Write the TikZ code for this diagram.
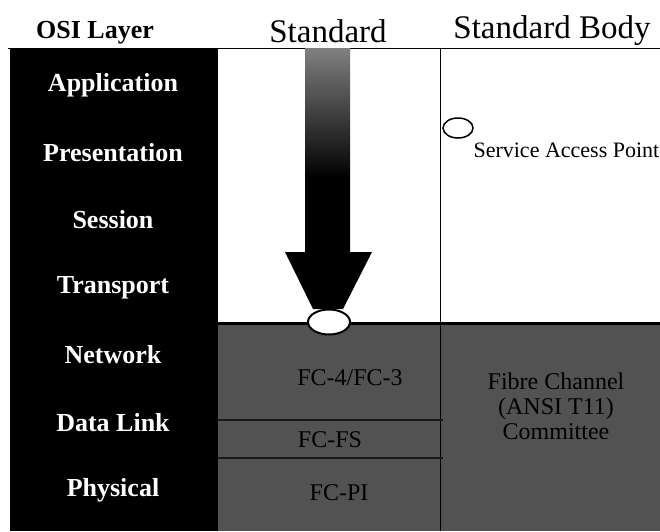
\documentclass[tikz,border=0pt]{standalone}
\usepackage{fontspec}
\setmainfont{Liberation Serif}
\usetikzlibrary{positioning,shapes.geometric}

\begin{document}
\begin{tikzpicture}[x=1pt,y=-1pt,node distance=67.5pt,
  layer/.style={text=white,font=\fontsize{26}{30}\selectfont\bfseries},
  head/.style={font=\fontsize{33}{38}\selectfont},
  fc/.style={text=black,font=\fontsize{24}{28}\selectfont},
  sap/.style={ellipse,draw=black,line width=2pt,fill=white,inner sep=0pt}]
  \useasboundingbox (0,0) rectangle (660,531);
  % panels
  \fill[black] (10,48) rectangle (218,531);
  \fill[white] (218,48) rectangle (660,323);
  \fill[black!68] (218,323) rectangle (660,531);
  \draw[line width=1pt] (8,48) -- (660,48);
  \draw[line width=3pt] (218,323) -- (660,323);
  \draw[line width=1pt] (440,48) -- (440,531);
  \draw[line width=2pt,black!90] (218,420) -- (443,420);
  \draw[line width=2pt,black!90] (218,458) -- (443,458);

  % headings
  \node[head,font=\fontsize{26}{30}\selectfont\bfseries] (osi) at (95,33) {OSI Layer};
  \node[head] (std) at (328,31) {Standard};
  \node[head] (body) at (552,31) {Standard Body};

  % OSI layers
  \node[layer] (1) at (113,85) {Application};
  \node[layer] (2) [below of = 1] {Presentation};
  \node[layer] (3) [below of = 2] {Session};
  \node[layer] (4) [below of = 3] {Transport};
  \node[layer] (5) [below of = 4] {Network};
  \node[layer] (6) [below of = 5] {Data Link};
  \node[layer] (7) [below of = 6] {Physical};

  % big arrow
  \shade[top color=black!50,bottom color=black,middle color=black]
    (305,48) -- (350,48) -- (350,252) -- (372,252) -- (343,309)
    -- (313,309) -- (285,252) -- (305,252) -- cycle;
  \node[sap,minimum width=42pt,minimum height=25pt] (sp) at (329,322) {};

  % legend
  \node[sap,line width=1.5pt,minimum width=30pt,minimum height=20pt] (key) at (458,128) {};
  \node[anchor=west,font=\fontsize{22}{26}\selectfont] (keytext) at (470,150) {Service Access Point};

  % standards
  \node[fc] (fc4) at (350,378) {FC-4/FC-3};
  \node[fc] (fcfs) at (330,440) {FC-FS};
  \node[fc] (fcpi) at (339,493) {FC-PI};
  \node[fc,align=center,font=\fontsize{24}{25}\selectfont] (t11) at (556,406)
    {Fibre Channel\\(ANSI T11)\\Committee};
\end{tikzpicture}
\end{document}
